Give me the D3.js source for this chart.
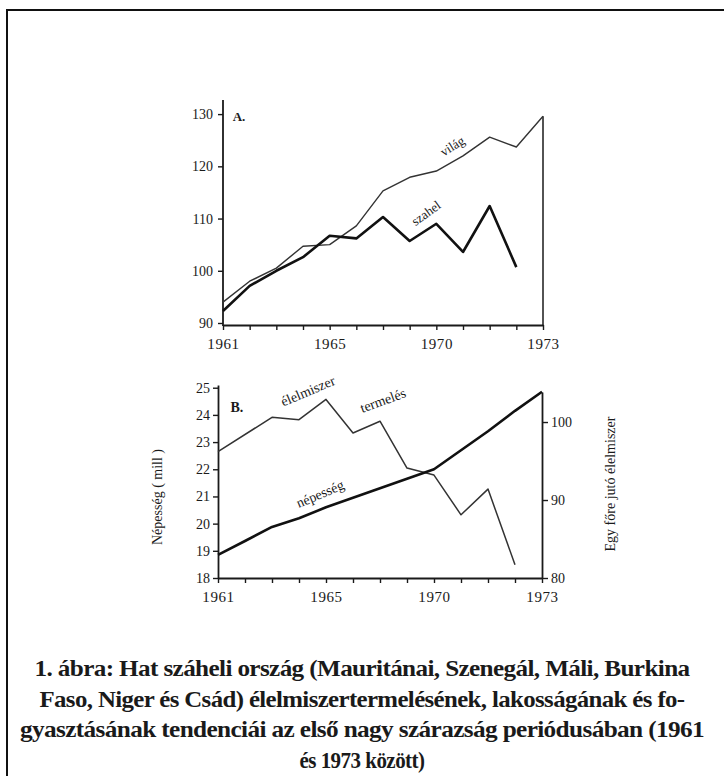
<!DOCTYPE html>
<html lang="hu">
<head>
<meta charset="UTF-8">
<title>Száhel élelmiszertermelés</title>
<script src="https://cdn.jsdelivr.net/npm/d3@7"></script>
<style>
  body { margin: 0; background: #fff; }
  svg { display: block; }
  text { font-family: "Liberation Serif", "DejaVu Serif", serif; fill: #1a1a1a; }
</style>
</head>
<body>
<svg width="724" height="776"></svg>
<script>
// 13 yearly tick positions, labelled as printed on the original
var tickLabels = ["1961", "", "", "", "1965", "", "", "", "1970", "", "", "", "1973"];

// A. index (world vs sahel)
var vilag  = [94.0, 98.0, 100.5, 104.7, 105.0, 108.6, 115.3, 117.9, 119.1, 122.0, 125.6, 123.7, 129.6];
var szahel = [92.3, 97.1, 100.0, 102.6, 106.7, 106.2, 110.3, 105.7, 109.0, 103.6, 112.4, 100.7];
var ticksA = [90, 100, 110, 120, 130];

// B. per capita food production (right axis) and population in millions (left axis)
var elelmiszer = [96.2, null, 100.6, 100.3, 102.9, 98.6, 100.1, 94.1, 93.2, 88.1, 91.4, 81.7];
var nepesseg   = [18.85, 19.36, 19.88, 20.2, 20.6, 20.95, 21.3, 21.65, 22.0, 22.7, 23.4, 24.15, 24.85];
var ticksBLeft  = [18, 19, 20, 21, 22, 23, 24, 25];
var ticksBRight = [80, 90, 100];

var caption = [
  "1. ábra: Hat száheli ország (Mauritánai, Szenegál, Máli, Burkina",
  "Faso, Niger és Csád) élelmiszertermelésének, lakosságának és fo-",
  "gyasztásának tendenciái az első nagy szárazság periódusában (1961",
  "és 1973 között)"
];
var captionWidths = [655, 645, 684, 125];

var svg = d3.select("svg");
var ink = "#1a1a1a";

// page frame (runs off the right and bottom edge)
svg.append("rect")
  .attr("x", 7).attr("y", 10).attr("width", 740).attr("height", 790)
  .attr("fill", "none").attr("stroke", "#111").attr("stroke-width", 2);

function pts(arr) {
  return arr.map(function(v, i) { return [i, v]; }).filter(function(d) { return d[1] != null; });
}

function styleAxis(g, size) {
  g.selectAll("line").attr("stroke", ink).attr("stroke-width", 1.4);
  g.selectAll("path").attr("stroke", ink).attr("stroke-width", 1.8);
  g.selectAll("text").style("font-family", '"Liberation Serif", serif')
    .style("font-size", size + "px").attr("fill", ink);
}

function xAxis(g, x, y0) {
  var ax = g.append("g").attr("transform", "translate(0," + y0 + ")")
    .call(d3.axisBottom(x).tickValues(d3.range(13))
      .tickFormat(function(i) { return tickLabels[i]; })
      .tickSize(5).tickSizeOuter(0).tickPadding(8));
  styleAxis(ax, 15);
  ax.selectAll("text").style("letter-spacing", "0.6px");
}

function label(g, txt, x, y, angle, size, bold) {
  g.append("text")
    .attr("transform", "translate(" + x + "," + y + ") rotate(" + angle + ")")
    .attr("text-anchor", "middle").attr("dy", "0.35em")
    .style("font-size", size + "px")
    .style("font-weight", bold ? "bold" : "normal")
    .text(txt);
}

// ---------- A ----------
var xA = d3.scaleLinear().domain([0, 12]).range([223, 543]);
var yA = d3.scaleLinear().domain([90, 132.7]).range([323, 100]);
var gA = svg.append("g");

var axA = gA.append("g").attr("transform", "translate(223,0)")
  .call(d3.axisLeft(yA).tickValues(ticksA).tickSize(5).tickSizeOuter(0).tickPadding(5));
styleAxis(axA, 14);
axA.select(".domain").remove();
gA.append("line").attr("x1", xA(0)).attr("x2", xA(0)).attr("y1", yA.range()[1]).attr("y2", 326)
  .attr("stroke", ink).attr("stroke-width", 1.8);
gA.append("line").attr("x1", xA(12)).attr("x2", xA(12)).attr("y1", yA(vilag[12])).attr("y2", 326)
  .attr("stroke", ink).attr("stroke-width", 1.5);
xAxis(gA, xA, 325);

var lineA = d3.line().x(function(d) { return xA(d[0]); }).y(function(d) { return yA(d[1]); });
gA.append("path").attr("d", lineA(pts(vilag)))
  .attr("fill", "none").attr("stroke", "#333").attr("stroke-width", 1.4).attr("stroke-linejoin", "round");
gA.append("path").attr("d", lineA(pts(szahel)))
  .attr("fill", "none").attr("stroke", "#111").attr("stroke-width", 2.6).attr("stroke-linejoin", "round");

label(gA, "A.", xA(0.6), yA(129.6), 0, 13, true);
label(gA, "világ", xA(8.6), yA(123.9), -32, 13, false);
label(gA, "szahel", xA(7.61), yA(111.05), -36, 13, false);

// ---------- B ----------
var xB = d3.scaleLinear().domain([0, 12]).range([218, 542]);
var yBL = d3.scaleLinear().domain([18, 25.1]).range([578, 385]);
var yBR = d3.scaleLinear().domain([80, 103.85]).range([578, 392]);
var gB = svg.append("g");

var axBL = gB.append("g").attr("transform", "translate(218,0)")
  .call(d3.axisLeft(yBL).tickValues(ticksBLeft).tickSize(5).tickSizeOuter(0).tickPadding(3));
styleAxis(axBL, 14);
var axBR = gB.append("g").attr("transform", "translate(542,0)")
  .call(d3.axisRight(yBR).tickValues(ticksBRight).tickSize(6).tickSizeOuter(0).tickPadding(3));
styleAxis(axBR, 14);
xAxis(gB, xB, 578);

var lineFood = d3.line().x(function(d) { return xB(d[0]); }).y(function(d) { return yBR(d[1]); });
var linePop  = d3.line().x(function(d) { return xB(d[0]); }).y(function(d) { return yBL(d[1]); });
gB.append("path").attr("d", lineFood(pts(elelmiszer)))
  .attr("fill", "none").attr("stroke", "#333").attr("stroke-width", 1.5).attr("stroke-linejoin", "round");
gB.append("path").attr("d", linePop(pts(nepesseg)))
  .attr("fill", "none").attr("stroke", "#111").attr("stroke-width", 2.6).attr("stroke-linejoin", "round");

label(gB, "B.", xB(0.7), yBL(24.3), 0, 14, true);
label(gB, "élelmiszer", xB(3.33), yBR(104.0), -23, 14, false);
label(gB, "termelés", xB(6.11), yBR(102.8), -20, 14, false);
label(gB, "népesség", xB(3.78), yBL(21.1), -23, 14, false);
label(gB, "Népesség ( mill )", 157, 497, -90, 14, false);
label(gB, "Egy főre jutó élelmiszer", 610, 484, -90, 14, false);

// ---------- caption ----------
svg.append("g").selectAll("text").data(caption).enter().append("text")
  .attr("x", 362).attr("y", function(d, i) { return 676 + i * 30.5; })
  .attr("text-anchor", "middle")
  .attr("textLength", function(d, i) { return captionWidths[i]; })
  .attr("lengthAdjust", "spacingAndGlyphs")
  .style("font-size", "24px").style("font-weight", "bold")
  .style("letter-spacing", "-0.6px").attr("fill", "#000")
  .text(function(d) { return d; });
</script>
</body>
</html>
